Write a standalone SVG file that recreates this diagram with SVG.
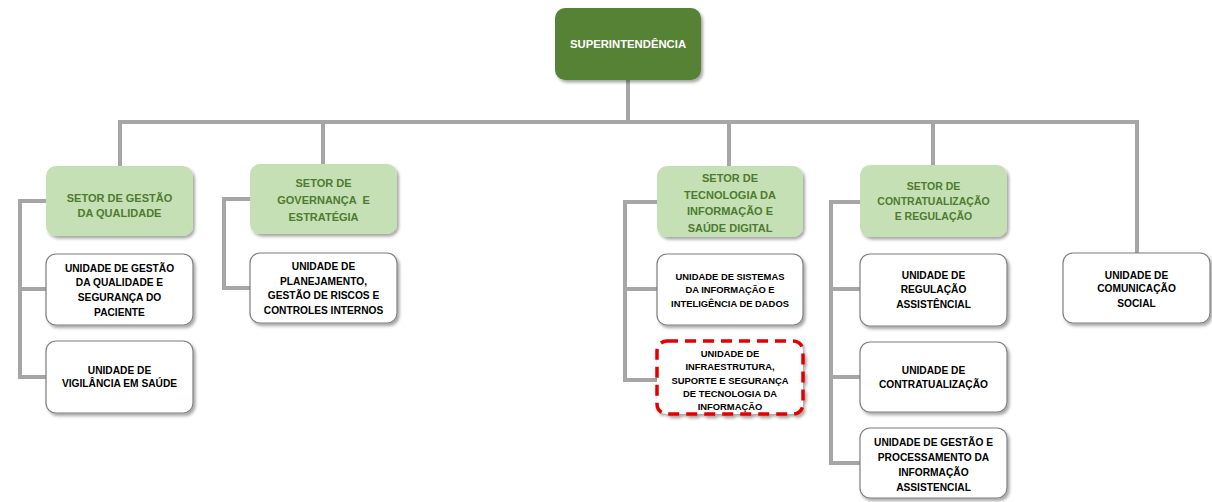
<svg xmlns="http://www.w3.org/2000/svg" width="1212" height="502" viewBox="0 0 1212 502">
<style>
.bg{fill:#ffffff}
.conn{fill:none;stroke:#A6A6A6;stroke-width:4;stroke-linejoin:miter}
.top{fill:#548235}
.set{fill:#C5E0B4}
.uni{fill:#ffffff;stroke:#7F7F7F;stroke-width:1.2}
.red{fill:#ffffff;stroke:#E00000;stroke-width:3.5;stroke-dasharray:11 7}
text{font-family:"Liberation Sans",Arial,sans-serif;font-weight:bold;text-anchor:middle}
.tw{fill:#ffffff;font-size:11.3px}
.tg{fill:#4E7B30;font-size:11px}
.tu{fill:#000000;font-size:10.2px}
.ts{fill:#000000;font-size:9.4px}
</style>
<defs>
<filter id="sh" x="-10%" y="-10%" width="125%" height="130%">
<feDropShadow dx="2" dy="2.5" stdDeviation="1.5" flood-color="#000" flood-opacity="0.35"/>
</filter>
</defs>
<rect class="bg" x="0" y="0" width="1212" height="502"/>
<g id="connectors">
<path class="conn" d="M628,80 V122"/>
<path class="conn" d="M120,166 V122 H1137 V253"/>
<path class="conn" d="M323,122 V164"/>
<path class="conn" d="M729,122 V166"/>
<path class="conn" d="M933,122 V165"/>
<path class="conn" d="M46,201 H20 V377 H46 M20,289 H46"/>
<path class="conn" d="M250,199 H224 V288 H250"/>
<path class="conn" d="M657,202 H625 V380 H657 M625,289 H657"/>
<path class="conn" d="M860,202 H831 V463 H860 M831,289 H860 M831,377 H860"/>
</g>
<g id="superintendencia">
<rect class="top" x="555" y="8" width="146" height="72" rx="10" filter="url(#sh)"/>
<text class="tw" x="628" y="48">SUPERINTENDÊNCIA</text>
</g>
<g id="setor-gestao-qualidade">
<rect class="set" x="46" y="166" width="147" height="70" rx="10" filter="url(#sh)"/>
<text class="tg" x="119.5" y="202">SETOR DE GESTÃO</text>
<text class="tg" x="119.5" y="217">DA QUALIDADE</text>
</g>
<g id="setor-governanca">
<rect class="set" x="250" y="164" width="147" height="70" rx="10" filter="url(#sh)"/>
<text class="tg" x="323.5" y="187">SETOR DE</text>
<text class="tg" x="323.5" y="204" xml:space="preserve">GOVERNANÇA  E</text>
<text class="tg" x="323.5" y="221">ESTRATÉGIA</text>
</g>
<g id="setor-tecnologia">
<rect class="set" x="657" y="166" width="146" height="71" rx="10" filter="url(#sh)"/>
<text class="tg" x="730" y="182">SETOR DE</text>
<text class="tg" x="730" y="198.5">TECNOLOGIA DA</text>
<text class="tg" x="730" y="215">INFORMAÇÃO E</text>
<text class="tg" x="730" y="232">SAÚDE DIGITAL</text>
</g>
<g id="setor-contratualizacao">
<rect class="set" x="860" y="165" width="147" height="72" rx="10" filter="url(#sh)"/>
<text class="tg" x="933.5" y="190" style="font-size:10.5px">SETOR DE</text>
<text class="tg" x="933.5" y="205" style="font-size:10.5px">CONTRATUALIZAÇÃO</text>
<text class="tg" x="933.5" y="220" style="font-size:10.5px">E REGULAÇÃO</text>
</g>
<g id="unidade-gestao-qualidade">
<rect class="uni" x="46" y="254" width="147" height="71" rx="10" filter="url(#sh)"/>
<text class="tu" x="119.5" y="272">UNIDADE DE GESTÃO</text>
<text class="tu" x="119.5" y="286">DA QUALIDADE E</text>
<text class="tu" x="119.5" y="300.5">SEGURANÇA DO</text>
<text class="tu" x="119.5" y="316">PACIENTE</text>
</g>
<g id="unidade-vigilancia">
<rect class="uni" x="46" y="341" width="147" height="72" rx="10" filter="url(#sh)"/>
<text class="tu" x="119.5" y="373.5">UNIDADE DE</text>
<text class="tu" x="119.5" y="387">VIGILÂNCIA EM SAÚDE</text>
</g>
<g id="unidade-planejamento">
<rect class="uni" x="250" y="253" width="147" height="70" rx="10" filter="url(#sh)"/>
<text class="tu" x="323.5" y="270">UNIDADE DE</text>
<text class="tu" x="323.5" y="284.5">PLANEJAMENTO,</text>
<text class="tu" x="323.5" y="299">GESTÃO DE RISCOS E</text>
<text class="tu" x="323.5" y="313.5">CONTROLES INTERNOS</text>
</g>
<g id="unidade-sistemas">
<rect class="uni" x="657" y="254" width="146" height="71" rx="10" filter="url(#sh)"/>
<text class="ts" x="730" y="280">UNIDADE DE SISTEMAS</text>
<text class="ts" x="730" y="293.3">DA INFORMAÇÃO E</text>
<text class="ts" x="730" y="306.6">INTELIGÊNCIA DE DADOS</text>
</g>
<g id="unidade-infraestrutura">
<rect class="red" x="657" y="341" width="146" height="73" rx="10" filter="url(#sh)"/>
<text class="ts" x="730" y="357">UNIDADE DE</text>
<text class="ts" x="730" y="370.3">INFRAESTRUTURA,</text>
<text class="ts" x="730" y="383.6">SUPORTE E SEGURANÇA</text>
<text class="ts" x="730" y="397">DE TECNOLOGIA DA</text>
<text class="ts" x="730" y="410.3">INFORMAÇÃO</text>
</g>
<g id="unidade-regulacao">
<rect class="uni" x="860" y="254" width="147" height="72" rx="10" filter="url(#sh)"/>
<text class="tu" x="933.5" y="278.5">UNIDADE DE</text>
<text class="tu" x="933.5" y="293">REGULAÇÃO</text>
<text class="tu" x="933.5" y="308">ASSISTÊNCIAL</text>
</g>
<g id="unidade-contratualizacao">
<rect class="uni" x="860" y="342" width="147" height="70" rx="10" filter="url(#sh)"/>
<text class="tu" x="933.5" y="373.5">UNIDADE DE</text>
<text class="tu" x="933.5" y="388">CONTRATUALIZAÇÃO</text>
</g>
<g id="unidade-processamento">
<rect class="uni" x="860" y="428" width="147" height="70" rx="10" filter="url(#sh)"/>
<text class="tu" x="933.5" y="446">UNIDADE DE GESTÃO E</text>
<text class="tu" x="933.5" y="461">PROCESSAMENTO DA</text>
<text class="tu" x="933.5" y="476">INFORMAÇÃO</text>
<text class="tu" x="933.5" y="491">ASSISTENCIAL</text>
</g>
<g id="unidade-comunicacao">
<rect class="uni" x="1063" y="253" width="147" height="70" rx="10" filter="url(#sh)"/>
<text class="tu" x="1136.5" y="278.5">UNIDADE DE</text>
<text class="tu" x="1136.5" y="292">COMUNICAÇÃO</text>
<text class="tu" x="1136.5" y="306.5">SOCIAL</text>
</g>
</svg>
